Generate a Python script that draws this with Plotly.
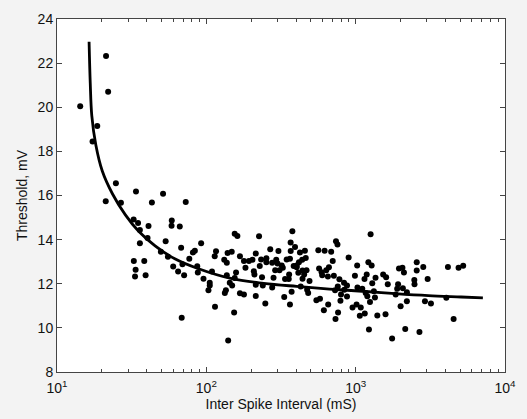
import plotly.graph_objects as go

# Scatter data (inter spike interval in ms, threshold in mV)
isi_ms = [14.3, 17.3, 18.6, 21.3, 22.0, 21.2, 24.8, 26.8, 33.8, 51.3, 43.2, 72.8,
          32.6, 34.9, 35.9, 35.9, 41.0, 40.4, 32.7, 33.6, 33.3, 38.4, 39.2, 53.4,
          49.6, 55.3, 58.7, 58.5, 66.4, 67.8, 60.0, 64.7, 69.2, 71.0, 68.4, 76.9,
          81.3, 83.8, 92.3, 86.9, 87.7, 95.7, 103.3, 105.4, 105.4, 109.1, 114.3, 116.1,
          113.8, 131.8, 137.1, 138.7, 137.1, 133.0, 135.2, 140.0, 147.9, 143.5, 148.9, 153.5,
          154.9, 161.4, 158.1, 154.9, 167.9, 178.6, 167.9, 182.8, 178.6, 192.8, 203.7, 208.0,
          209.9, 214.3, 214.3, 214.3, 228.0, 232.8, 225.4, 236.0, 238.8, 248.3, 252.4, 252.4,
          267.9, 276.1, 276.1, 281.8, 289.1, 293.8, 303.9, 299.9, 309.0, 319.9, 325.1, 332.3,
          336.6, 345.1, 356.4, 358.4, 363.1, 366.9, 376.7, 367.3, 363.1, 372.4, 384.6, 392.6,
          402.7, 402.7, 413.0, 416.9, 423.6, 428.5, 438.5, 440.6, 440.6, 451.9, 457.1, 463.4,
          468.8, 473.2, 480.8, 491.0, 545.8, 562.3, 568.9, 576.8, 591.6, 597.0, 612.4, 619.4,
          635.3, 651.7, 654.6, 662.2, 685.4, 702.0, 714.5, 727.8, 738.1, 755.3, 778.0, 732.8,
          758.6, 762.1, 790.7, 797.9, 835.6, 839.5, 875.0, 897.1, 875.0, 952.6, 988.6, 1013.9,
          1028.0, 1023.3, 1066.0, 1081.4, 1107.3, 1145.5, 1166.7, 1150.8, 1185.7, 1196.6, 1216.2,
          1227.4, 1247.0, 1258.9, 1279.4, 1291.3, 1324.3, 1358.3, 1345.8, 1396.4, 1527.6, 1584.9,
          1599.6, 1640.6, 1753.8, 1853.0, 1896.6, 1923.1, 1949.8, 2000.0, 2056.4, 2070.1, 2104.9,
          2147.7, 2203.4, 2202.0, 2470.0, 2477.1, 2563.1, 2564.5, 2673.8, 2835.4, 2910.5, 3034.2,
          3191.5, 4045.6, 4148.0, 4528.6, 4886.6, 5248.1]
threshold_mv = [20.05, 18.45, 19.15, 22.32, 20.70, 15.74, 16.55, 15.67, 16.18, 16.08, 15.68, 15.70,
                14.91, 14.75, 14.44, 13.84, 14.62, 14.07, 13.03, 12.63, 12.33, 13.03, 12.38, 13.93,
                13.45, 13.22, 14.87, 14.63, 14.60, 13.63, 12.78, 12.55, 12.88, 12.39, 10.46, 13.13,
                13.42, 13.50, 13.84, 12.79, 12.51, 12.23, 11.71, 12.05, 11.92, 12.56, 10.96, 13.47,
                13.25, 13.09, 12.95, 13.39, 12.39, 11.58, 11.71, 9.43, 13.45, 12.05, 11.92, 10.70,
                14.27, 14.16, 12.51, 12.26, 11.57, 11.51, 13.25, 12.72, 13.03, 13.03, 13.09, 12.57,
                12.42, 13.37, 11.45, 11.95, 12.81, 13.10, 14.15, 12.30, 11.92, 11.11, 13.16, 12.98,
                13.56, 11.83, 12.95, 12.27, 12.61, 13.09, 13.48, 12.92, 12.61, 12.83, 12.73, 11.40,
                12.22, 13.10, 12.22, 12.42, 13.13, 13.87, 14.38, 13.48, 11.06, 11.64, 12.81, 13.67,
                12.75, 12.83, 12.50, 12.98, 13.42, 11.88, 13.09, 12.23, 12.60, 12.42, 13.50, 13.17,
                12.61, 11.73, 11.58, 12.12, 11.25, 13.52, 12.69, 11.32, 12.52, 12.39, 10.80, 13.50,
                12.61, 12.33, 11.06, 12.75, 13.45, 13.03, 12.36, 11.71, 13.93, 13.78, 12.20, 10.40,
                11.88, 10.70, 11.23, 11.51, 12.05, 11.73, 11.42, 13.19, 11.92, 10.92, 12.36, 11.06,
                11.83, 12.83, 10.55, 10.92, 11.77, 12.22, 11.58, 10.65, 12.42, 11.43, 12.98,
                9.93, 11.17, 14.24, 12.83, 12.02, 11.66, 12.27, 11.38, 10.56, 12.42, 10.62,
                12.30, 11.98, 9.52, 11.51, 11.77, 11.98, 12.69, 10.98, 12.73, 11.80, 12.51,
                9.95, 11.61, 11.21, 12.17, 11.98, 12.60, 12.98, 9.81, 12.76, 11.21, 12.22,
                11.11, 11.36, 12.76, 10.40, 12.73, 12.82]

# Fitted curve
fit_x = [16.4, 16.7, 17.1, 18.2, 20.1, 23.5, 28.7, 35.2, 45.4, 61.5, 87.7, 146,
         242, 402, 668, 1109, 1844, 3062, 5090, 7110]
fit_y = [22.97, 21.09, 19.62, 18.29, 17.11, 16.08, 15.12, 14.38, 13.72, 13.13, 12.69, 12.24,
         12.02, 11.88, 11.76, 11.66, 11.55, 11.46, 11.40, 11.36]

x_tickvals = [10, 100, 1000, 10000]
x_ticktext = ["10<sup>1</sup>", "10<sup>2</sup>", "10<sup>3</sup>", "10<sup>4</sup>"]
x_minor_vals = [m * d for d in (10, 100, 1000) for m in range(2, 10)]
y_tickvals = [8, 10, 12, 14, 16, 18, 20, 22, 24]

n = min(len(isi_ms), len(threshold_mv))

fig = go.Figure()
fig.add_trace(go.Scatter(x=isi_ms[:n], y=threshold_mv[:n], mode="markers",
                         marker=dict(color="black", size=6), showlegend=False))
fig.add_trace(go.Scatter(x=fit_x, y=fit_y, mode="lines",
                         line=dict(color="black", width=2.8, shape="spline"),
                         showlegend=False))

font = dict(family="Liberation Sans, Arial, sans-serif", size=14, color="#111")
tfont = dict(family="Liberation Sans, Arial, sans-serif", size=14, color="#111")
fig.update_layout(
    width=527, height=419,
    margin=dict(l=57, r=16, t=11, b=46),
    paper_bgcolor="#f3f3f3", plot_bgcolor="white",
    font=font,
    xaxis=dict(type="log", range=[1, 4], tickmode="array", tickvals=x_tickvals, ticktext=x_ticktext,
               ticks="inside", ticklen=5, tickcolor="#444", showline=True, linecolor="#444",
               linewidth=1, mirror="ticks", showgrid=False, zeroline=False,
               ticklabelstandoff=3,
               minor=dict(ticks="inside", ticklen=3, tickcolor="#444", showgrid=False,
                          tickmode="array", tickvals=x_minor_vals),
               title=dict(text="Inter Spike Interval (mS)", standoff=2, font=tfont),
               tickfont=font),
    yaxis=dict(range=[8, 24], tickvals=y_tickvals,
               ticks="inside", ticklen=5, tickcolor="#444", showline=True, linecolor="#444",
               linewidth=1, mirror="ticks", showgrid=False, zeroline=False,
               title=dict(text="Threshold, mV", standoff=6, font=tfont),
               tickfont=font),
)
fig.write_html("out.html")
